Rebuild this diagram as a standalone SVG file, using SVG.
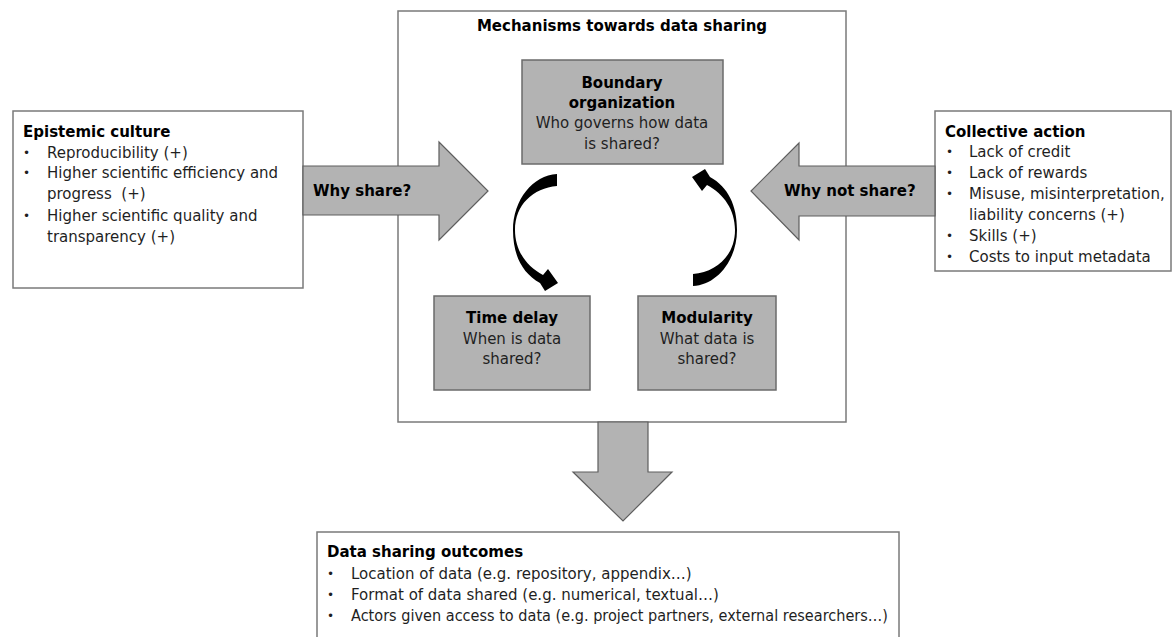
<svg xmlns="http://www.w3.org/2000/svg" width="1173" height="637" viewBox="0 0 1173 637">
<style>
.box{fill:#fff;stroke:#7a7a7a;stroke-width:1.5}
.gbox{fill:#b3b3b3;stroke:#6b6b6b;stroke-width:1.5}
.garrow{fill:#b3b3b3;stroke:#5e5e5e;stroke-width:1.2;stroke-linejoin:miter}
.curve{fill:#000}
text{font-family:"DejaVu Sans","Verdana",sans-serif;font-size:15px;fill:#1f1f1f}
.b{font-weight:bold;fill:#000}
.c{text-anchor:middle}
.bl{font-size:12px}
</style>
<rect width="1173" height="637" fill="#fff"/>

<g id="mechanisms">
<rect class="box" x="398" y="11" width="448" height="411"/>
<text class="b c" x="622" y="31">Mechanisms towards data sharing</text>
</g>

<g id="boundary-organization">
<rect class="gbox" x="522" y="60" width="201" height="104"/>
<text class="b c" x="622" y="88">Boundary</text>
<text class="b c" x="622" y="108">organization</text>
<text class="c" x="622" y="128">Who governs how data</text>
<text class="c" x="622" y="149">is shared?</text>
</g>

<g id="time-delay">
<rect class="gbox" x="434" y="296" width="156" height="94"/>
<text class="b c" x="512" y="323">Time delay</text>
<text class="c" x="512" y="344">When is data</text>
<text class="c" x="512" y="364">shared?</text>
</g>

<g id="modularity">
<rect class="gbox" x="638" y="296" width="138" height="94"/>
<text class="b c" x="707" y="323">Modularity</text>
<text class="c" x="707" y="344">What data is</text>
<text class="c" x="707" y="364">shared?</text>
</g>

<g id="epistemic-culture">
<rect class="box" x="13" y="111" width="290" height="177"/>
<text class="b" x="23" y="137">Epistemic culture</text>
<text class="bl" x="23" y="157">•</text>
<text x="47" y="158">Reproducibility (+)</text>
<text class="bl" x="23" y="177">•</text>
<text x="47" y="178">Higher scientific efficiency and</text>
<text x="47" y="199">progress &#160;(+)</text>
<text class="bl" x="23" y="220">•</text>
<text x="47" y="221">Higher scientific quality and</text>
<text x="47" y="242">transparency (+)</text>
</g>

<g id="collective-action">
<rect class="box" x="935" y="111" width="236" height="160"/>
<text class="b" x="945" y="137">Collective action</text>
<text class="bl" x="946" y="156">•</text>
<text x="969" y="157">Lack of credit</text>
<text class="bl" x="946" y="177">•</text>
<text x="969" y="178">Lack of rewards</text>
<text class="bl" x="946" y="198">•</text>
<text x="969" y="199">Misuse, misinterpretation,</text>
<text x="969" y="220">liability concerns (+)</text>
<text class="bl" x="946" y="240">•</text>
<text x="969" y="241">Skills (+)</text>
<text class="bl" x="946" y="261">•</text>
<text x="969" y="262">Costs to input metadata</text>
</g>

<g id="data-sharing-outcomes">
<rect class="box" x="317" y="532" width="582" height="120"/>
<text class="b" x="327" y="557">Data sharing outcomes</text>
<text class="bl" x="327" y="578">•</text>
<text x="351" y="579">Location of data (e.g. repository, appendix…)</text>
<text class="bl" x="327" y="599">•</text>
<text x="351" y="600">Format of data shared (e.g. numerical, textual…)</text>
<text class="bl" x="327" y="620">•</text>
<text x="351" y="621" textLength="537" lengthAdjust="spacingAndGlyphs">Actors given access to data (e.g. project partners, external researchers…)</text>
</g>

<g id="connectors">
<g id="why-share">
<polygon class="garrow" points="303,166 439,166 439,142 488,191 439,240 439,215 303,215"/>
<text class="b" x="313" y="196">Why share?</text>
</g>
<g id="why-not-share">
<polygon class="garrow" points="935,166 799,166 799,143 751,191 799,240 799,216 935,216"/>
<text class="b" x="784" y="196">Why not share?</text>
</g>
<polygon id="to-outcomes" class="garrow" points="598,422 648,422 648,472 672,472 623,521 573,472 598,472"/>
<path id="cycle-left" class="curve" d="M557,174 C533,175 513,200 513,230 C513,255 522,273 540,283 L545,291 L558,283 L548,269 L543,275 C526,266 515,250 515,230 C515,205 533,188 557,186 Z"/>
<path id="cycle-right" class="curve" transform="rotate(180 625 230)" d="M557,174 C533,175 513,200 513,230 C513,255 522,273 540,283 L545,291 L558,283 L548,269 L543,275 C526,266 515,250 515,230 C515,205 533,188 557,186 Z"/>
</g>
</svg>
